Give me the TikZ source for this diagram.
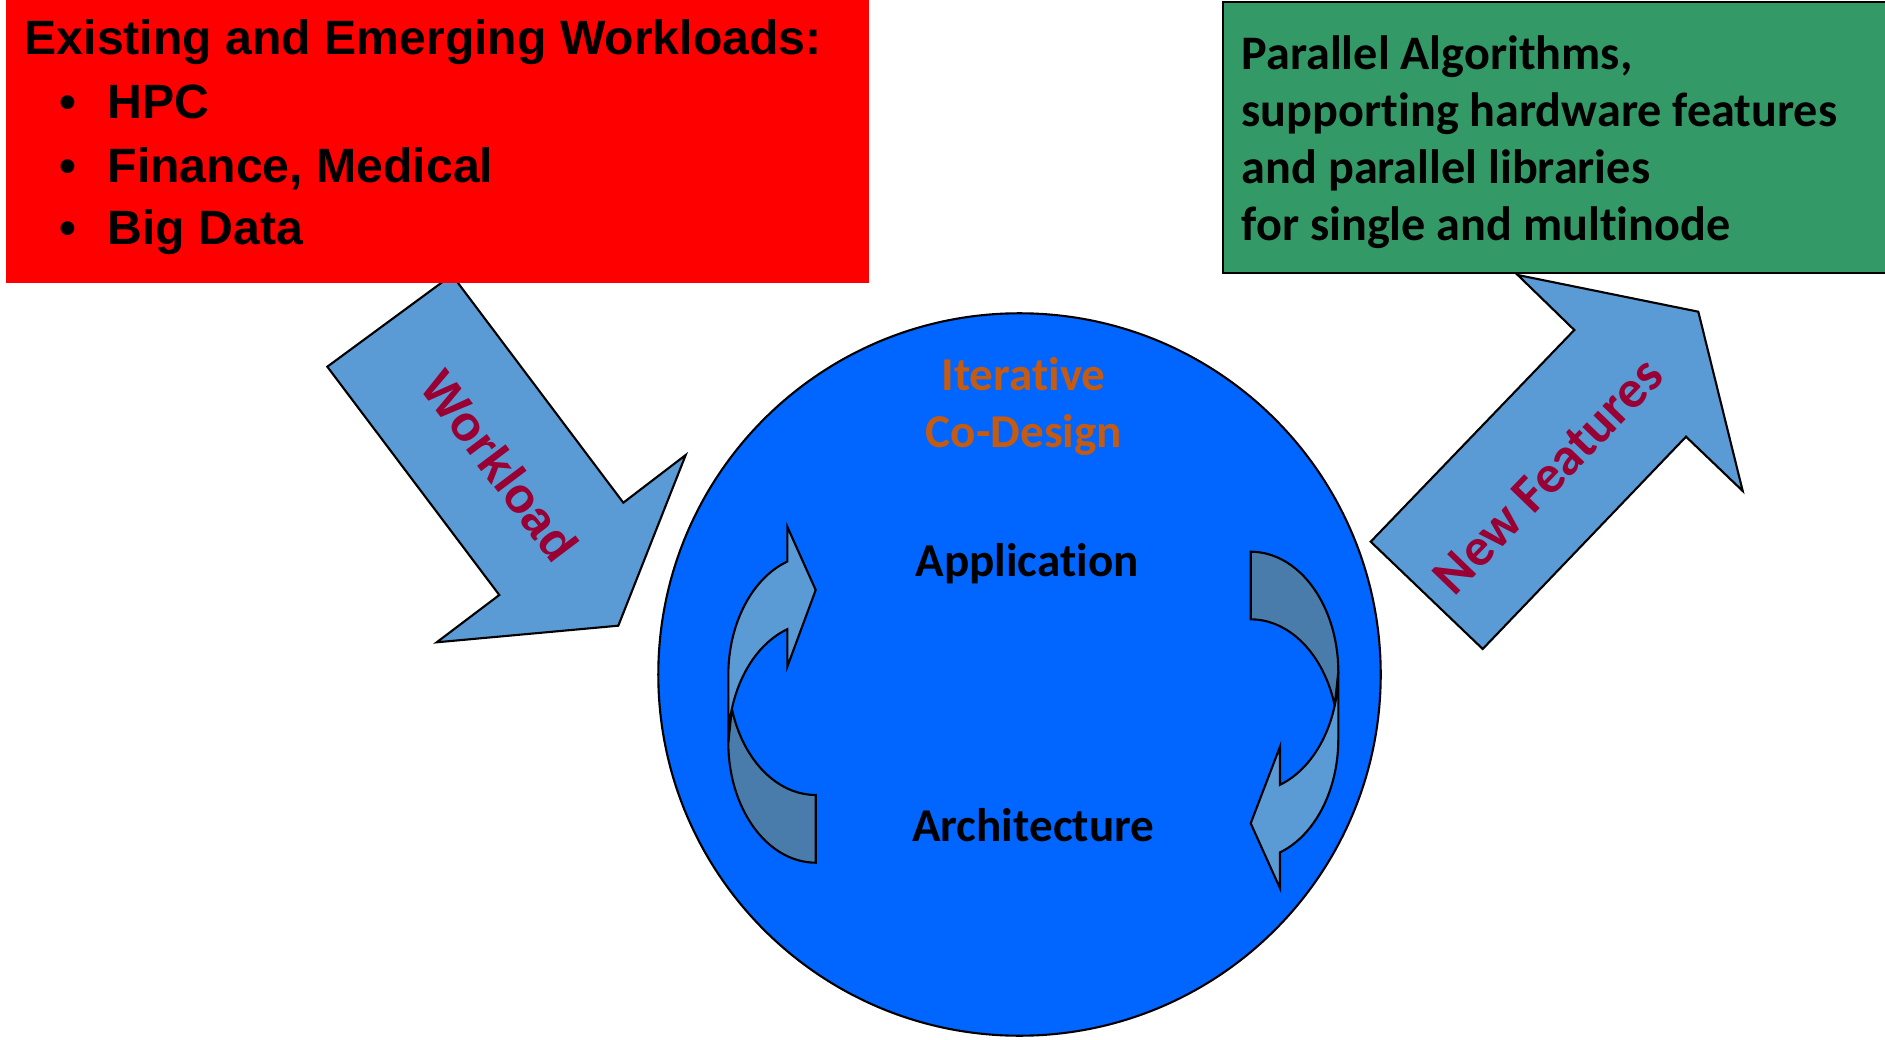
\documentclass[tikz,border=0pt]{standalone}
\usepackage{fontspec}
\usepackage{tikz}

\newfontfamily\arialfont{Liberation Sans}
\newfontfamily\calfont{Carlito}[Ligatures=NoCommon]

\definecolor{boxred}{RGB}{255,0,0}
\definecolor{boxgreen}{RGB}{51,153,102}
\definecolor{discblue}{RGB}{0,102,255}
\definecolor{arrowblue}{RGB}{91,155,213}
\definecolor{arrowshade}{RGB}{73,124,170}
\definecolor{labelred}{RGB}{153,0,51}
\definecolor{designorange}{RGB}{197,90,17}

\tikzset{
  outline/.style={draw=black, line width=0.6pt, line join=miter},
  bigarrow/.style={outline, fill=arrowblue},
  loopfront/.style={outline, fill=arrowblue},
  loopback/.style={outline, fill=arrowshade},
  redtxt/.style={inner sep=0pt, font=\arialfont\bfseries\fontsize{13.7}{16}\selectfont},
  greentxt/.style={inner sep=0pt, anchor=base west, font=\calfont\bfseries\fontsize{13.7}{16}\selectfont},
  disctxt/.style={inner sep=0pt, anchor=base, font=\calfont\bfseries\fontsize{13.4}{16}\selectfont},
}

\begin{document}
\begin{tikzpicture}[x=0.01cm,y=-0.01cm]
\useasboundingbox (0,0) rectangle (1885,1040);

% workload arrow, its back end goes under the red box
\draw[bigarrow] (327.3,366.7) -- (452,275) -- (623.3,502.7) -- (685.7,455)
  -- (618.3,625.7) -- (436.7,642.3) -- (499.3,595) -- cycle;
\node[rotate=-53, text=labelred, font=\arialfont\bfseries\fontsize{14}{16}\selectfont] (workload) at (500,466) {Workload};

% new features arrow
\draw[bigarrow] (1482.7,649) -- (1370.7,541.7) -- (1574.3,330) -- (1517.7,275)
  -- (1698.3,311.7) -- (1742.7,491) -- (1686,436.7) -- cycle;
\node[rotate=46, text=labelred, font=\calfont\bfseries\fontsize{15.2}{18}\selectfont] (features) at (1548,476) {New Features};

% workloads box
\fill[boxred] (6,-2) rectangle (869,283.5);
\node[redtxt, anchor=base west] (title) at (24,54.5) {Existing and Emerging Workloads:};
\foreach \y/\name/\txt in {118.5/hpc/HPC, 182.5/finance/{Finance, Medical}, 245/bigdata/Big Data}{
  \node[redtxt, anchor=base] (dot-\name) at (68,\y) {•};
  \node[redtxt, anchor=base west] (\name) at (107,\y) {\txt};
}

% algorithms box
\draw[outline, fill=boxgreen] (1222.7,1.7) rectangle (1895,273.3);
\node[greentxt] (algo1) at (1241,69.5) {Parallel Algorithms,};
\node[greentxt] (algo2) at (1241,126.5) {supporting hardware features};
\node[greentxt] (algo3) at (1241,184) {and parallel libraries};
\node[greentxt] (algo4) at (1241,241) {for single and multinode};

% co-design disc
\node[circle, outline, fill=discblue, minimum size=7.22cm, inner sep=0pt] (disc) at (1019.5,674.5) {};
\node[disctxt, text=designorange] (iter) at (1023.5,390.5) {Iterative};
\node[disctxt, text=designorange] (codesign) at (1024,447.5) {Co-Design};
\node[disctxt] (app) at (1027,576) {Application};
\node[disctxt] (arch) at (1033.3,841) {Architecture};

% left loop arrow: shaded tail first, then the front with the head
\draw[loopback] plot[domain=180:90, samples=30, variable=\t] ({815.7+87.4*cos(\t)},{742.7+120*sin(\t)})
  -- plot[domain=90:163.6, samples=20, variable=\t] ({815.7+87.4*cos(\t)},{675+120*sin(\t)}) -- cycle;
\draw[loopfront] plot[domain=180:251.04, samples=25, variable=\t] ({815.7+87.4*cos(\t)},{675+120*sin(\t)})
  -- (787.3,526.7) -- (815.7,590) -- (787.3,666.7)
  -- plot[domain=251.04:180, samples=25, variable=\t] ({815.7+87.4*cos(\t)},{742.7+120*sin(\t)}) -- cycle;

% right loop arrow
\draw[loopback] plot[domain=0:-90, samples=30, variable=\t] ({1250.7+87.6*cos(\t)},{671.7+120*sin(\t)})
  -- plot[domain=-90:-16.36, samples=20, variable=\t] ({1250.7+87.6*cos(\t)},{739.3+120*sin(\t)}) -- cycle;
\draw[loopfront] plot[domain=0:70.46, samples=25, variable=\t] ({1250.7+87.6*cos(\t)},{739.3+120*sin(\t)})
  -- (1280,888.3) -- (1250.7,823.3) -- (1280,746.7)
  -- plot[domain=70.46:0, samples=25, variable=\t] ({1250.7+87.6*cos(\t)},{671.7+120*sin(\t)}) -- cycle;
\end{tikzpicture}
\end{document}
